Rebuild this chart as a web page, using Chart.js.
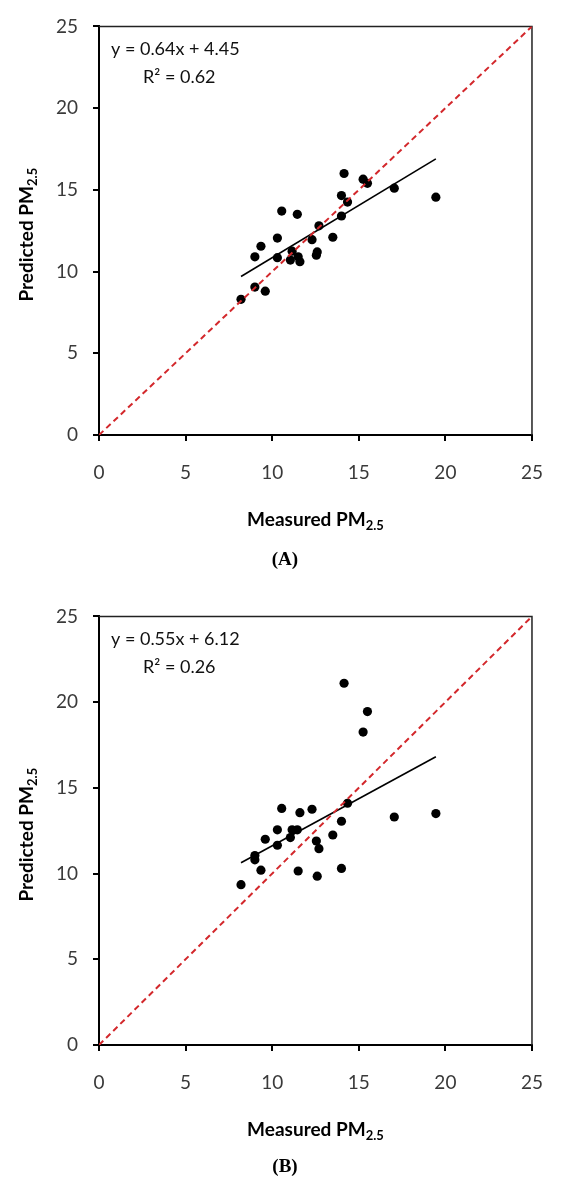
<!DOCTYPE html>
<html>
<head>
<meta charset="utf-8">
<title>Measured vs predicted PM2.5</title>
<script src="https://cdn.jsdelivr.net/npm/chart.js@4.4.1/dist/chart.umd.min.js"></script>
<style>
  html, body { margin: 0; padding: 0; background: #fff; }
  body { width: 563px; height: 1178px; position: relative; overflow: hidden; }
  .panel { position: absolute; left: 0; width: 563px; }
  .caption { position: absolute; left: 0; width: 570px; text-align: center;
             font: bold 19px "Liberation Serif", "Times New Roman", serif; color: #000; }
</style>
</head>
<body>
<div class="panel" style="top:0;height:590px"><canvas id="chartA"></canvas></div>
<div class="caption" style="top:548px">(A)</div>
<div class="panel" style="top:590px;height:588px"><canvas id="chartB"></canvas></div>
<div class="caption" style="top:1155px">(B)</div>

<script>
// Measured PM2.5 (shared x values of both panels)
const measured = [8.2, 9.0, 9.6, 9.0, 9.35, 10.3, 10.55, 11.45, 10.3, 11.15, 11.05, 11.5, 11.6,
                  12.3, 12.7, 12.6, 12.55, 13.5, 14.0, 14.0, 14.35, 14.15, 15.25, 15.5, 17.05, 19.45];
// Predicted PM2.5, panel A
const predictedA = [8.3, 9.05, 8.8, 10.9, 11.55, 12.05, 13.7, 13.5, 10.85, 11.25, 10.7, 10.9, 10.6,
                    11.95, 12.8, 11.2, 11.0, 12.1, 13.4, 14.65, 14.25, 16.0, 15.65, 15.4, 15.1, 14.55];
// Predicted PM2.5, panel B
const predictedB = [9.35, 11.05, 12.0, 10.8, 10.2, 12.55, 13.8, 12.55, 11.65, 12.55, 12.1, 10.15, 13.55,
                    13.75, 11.45, 9.85, 11.9, 12.25, 13.05, 10.3, 14.1, 21.1, 18.25, 19.45, 13.3, 13.5];

// Linear fit shown on each panel: [A, B]
const slopes     = [0.64, 0.55];
const intercepts = [4.45, 6.12];
const rSquared   = [0.62, 0.26];

const axisTicks = [0, 5, 10, 15, 20, 25];

const FONT = 'Lato, "Open Sans", sans-serif';
const TICK_COLOR = '#3a3a3a';

// texto con subíndice (PM2.5)
function drawSubText(ctx, main, sub, x, y) {
  ctx.font = 'bold 19px ' + FONT;
  const w1 = ctx.measureText(main).width;
  ctx.font = 'bold 13px ' + FONT;
  const w2 = ctx.measureText(sub).width;
  const start = x - (w1 + w2) / 2;
  ctx.textAlign = 'left';
  ctx.textBaseline = 'middle';
  ctx.fillStyle = '#000';
  ctx.font = 'bold 19px ' + FONT;
  ctx.fillText(main, start, y);
  ctx.font = 'bold 13px ' + FONT;
  ctx.fillText(sub, start + w1, y + 6);
}

// frame + annotations
const panelPlugin = {
  id: 'panelDecor',
  beforeDatasetsDraw(chart) {
    const { ctx, chartArea: a } = chart;
    ctx.save();
    ctx.strokeStyle = '#222';
    ctx.lineWidth = 1.5;
    ctx.beginPath();
    ctx.moveTo(a.left, a.top);
    ctx.lineTo(a.right, a.top);
    ctx.lineTo(a.right, a.bottom);
    ctx.stroke();
    ctx.restore();
  },
  afterDraw(chart, args, opts) {
    const { ctx, chartArea: a } = chart;
    ctx.save();
    // fit equation
    ctx.fillStyle = '#111';
    ctx.font = '18px ' + FONT;
    ctx.textAlign = 'left';
    ctx.textBaseline = 'middle';
    ctx.fillText('y = ' + opts.slope.toFixed(2) + 'x + ' + opts.intercept.toFixed(2), a.left + 12, a.top + 23);
    ctx.fillText('R\u00b2 = ' + opts.r2.toFixed(2), a.left + 44, a.top + 51);
    // axis titles
    drawSubText(ctx, 'Measured PM', '2.5', (a.left + a.right) / 2, a.bottom + 85);
    ctx.translate(27, (a.top + a.bottom) / 2 + 4);
    ctx.rotate(-Math.PI / 2);
    drawSubText(ctx, 'Predicted PM', '2.5', 0, 0);
    ctx.restore();
  },
};

function axis(afterFit, padding) {
  return {
    type: 'linear',
    min: 0,
    max: 25,
    afterBuildTicks: s => { s.ticks = axisTicks.map(v => ({ value: v })); },
    afterFit,
    grid: { drawOnChartArea: false, drawTicks: true, tickLength: 6, color: '#000', lineWidth: 2 },
    border: { display: true, color: '#000', width: 2 },
    ticks: { color: TICK_COLOR, padding, font: { family: FONT, size: 19 } },
  };
}

function scatterPanel(canvasId, predicted, i, xAxisHeight) {
  const xs = measured;
  const x0 = Math.min(...xs), x1 = Math.max(...xs);
  return new Chart(document.getElementById(canvasId), {
    type: 'scatter',
    data: {
      datasets: [
        {
          data: xs.map((x, k) => ({ x, y: predicted[k] })),
          backgroundColor: '#000',
          borderWidth: 0,
          pointRadius: 4.6,
          order: 3,
        },
        {
          data: [{ x: x0, y: slopes[i] * x0 + intercepts[i] }, { x: x1, y: slopes[i] * x1 + intercepts[i] }],
          showLine: true,
          borderColor: '#000',
          borderWidth: 1.6,
          pointRadius: 0,
          order: 2,
        },
        {
          data: [{ x: 0, y: 0 }, { x: 25, y: 25 }],
          showLine: true,
          borderColor: '#d3282c',
          borderWidth: 2,
          borderDash: [6, 4],
          pointRadius: 0,
          order: 1,
        },
      ],
    },
    options: {
      responsive: true,
      maintainAspectRatio: false,
      animation: false,
      devicePixelRatio: 1,
      layout: { padding: { top: 20, right: 12, left: 0, bottom: 0 } },
      plugins: {
        legend: { display: false },
        tooltip: { enabled: false },
        panelDecor: { slope: slopes[i], intercept: intercepts[i], r2: rSquared[i] },
      },
      scales: {
        x: axis(s => { s.height = xAxisHeight; }, 20),
        y: axis(s => { s.width = 99; }, 15),
      },
    },
    plugins: [panelPlugin],
  });
}

scatterPanel('chartA', predictedA, 0, 155);
scatterPanel('chartB', predictedB, 1, 133);
</script>
</body>
</html>
